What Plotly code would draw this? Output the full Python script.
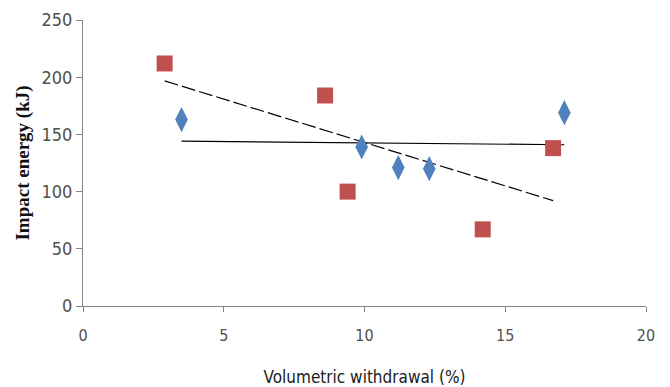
import numpy as np
import plotly.graph_objects as go

# Data
blue_x = [3.5, 9.9, 11.2, 12.3, 17.1]
blue_y = [163, 139, 121, 120, 169]
red_x = [2.9, 8.6, 9.4, 14.2, 16.7]
red_y = [212, 184, 100, 67, 138]

x_ticks = [0, 5, 10, 15, 20]
y_ticks = [0, 50, 100, 150, 200, 250]

BLUE = "#4F81BD"
RED = "#C0504D"

def trend(xs, ys):
    k, b = np.polyfit(xs, ys, 1)
    xe = [min(xs), max(xs)]
    return xe, [k * v + b for v in xe]

fig = go.Figure()

bx, by = trend(blue_x, blue_y)
rx, ry = trend(red_x, red_y)

fig.add_trace(go.Scatter(x=rx, y=ry, mode="lines",
                         line=dict(color="black", width=1.2, dash="14px,4px"),
                         showlegend=False, hoverinfo="skip"))
fig.add_trace(go.Scatter(x=bx, y=by, mode="lines",
                         line=dict(color="black", width=1.2),
                         showlegend=False, hoverinfo="skip"))
fig.add_trace(go.Scatter(x=red_x, y=red_y, mode="markers",
                         marker=dict(symbol="square", size=16, color=RED),
                         showlegend=False))
fig.add_trace(go.Scatter(x=blue_x, y=blue_y, mode="markers",
                         marker=dict(symbol="diamond-tall", size=18, color=BLUE),
                         showlegend=False))

tickfont_family = "DejaVu Sans Condensed, Liberation Sans, Arial, sans-serif"

fig.update_layout(
    width=670, height=387,
    margin=dict(l=83, r=24, t=20, b=81, autoexpand=False),
    paper_bgcolor="white", plot_bgcolor="white",
    showlegend=False,
    xaxis=dict(
        range=[0, 20], tickvals=x_ticks, ticktext=[str(v) for v in x_ticks],
        showgrid=False, zeroline=False, automargin=False,
        showline=True, linecolor="#868686", linewidth=1,
        ticks="outside", ticklen=5, tickcolor="#868686",
        ticklabelstandoff=10,
        tickfont=dict(family=tickfont_family, size=16, color="#505050"),
        title=dict(text="Volumetric withdrawal (%)", standoff=26,
                   font=dict(family=tickfont_family, size=17, color="#202020")),
    ),
    yaxis=dict(
        range=[0, 250], tickvals=y_ticks, ticktext=[str(v) for v in y_ticks],
        showgrid=False, zeroline=False, automargin=False,
        showline=True, linecolor="#868686", linewidth=1,
        ticks="outside", ticklen=6, tickcolor="#868686",
        tickfont=dict(family=tickfont_family, size=18, color="#505050"),
        title=dict(text="<b>Impact energy (kJ)</b>", standoff=6,
                   font=dict(family="Liberation Serif, Times New Roman, serif", size=19, color="#111111")),
    ),
)

fig.write_html("out.html", config={"displayModeBar": False},
               post_script="document.body.style.margin='0';")
